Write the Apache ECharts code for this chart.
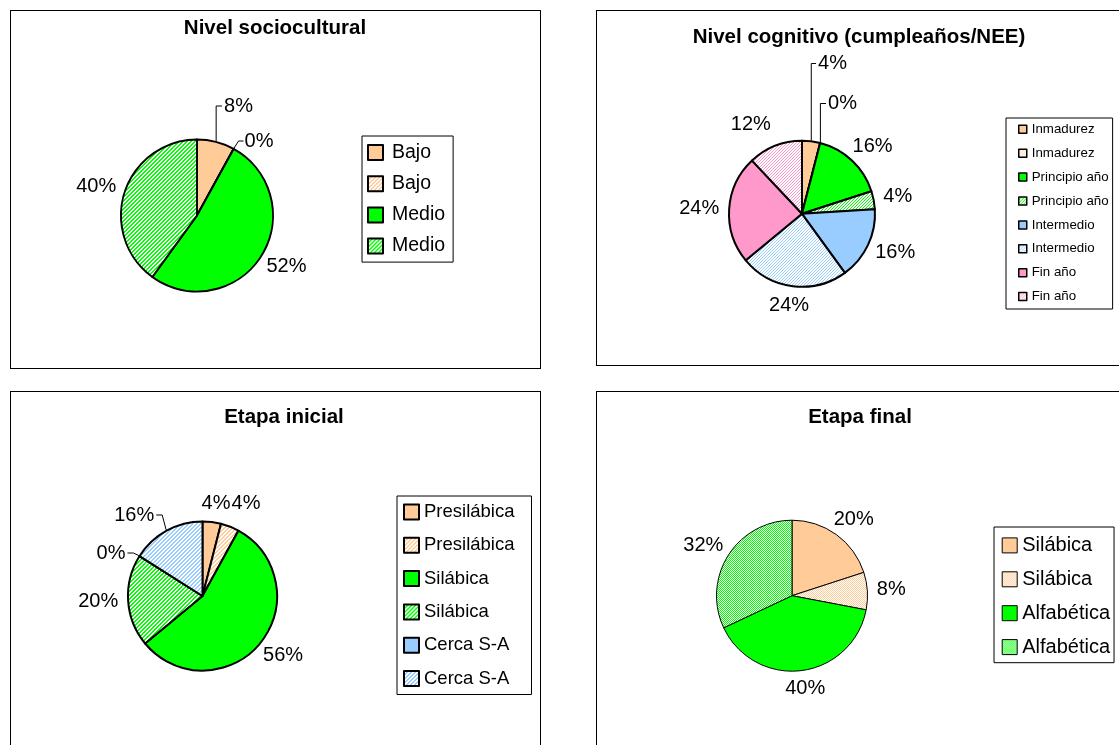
<!DOCTYPE html>
<html>
<head>
<meta charset="utf-8">
<script src="https://cdn.jsdelivr.net/npm/echarts@6/dist/echarts.min.js"></script>
<style>
  html, body { margin: 0; padding: 0; background: #fff; }
  #stage { position: relative; width: 1119px; height: 745px; overflow: hidden; }
  .frame { position: absolute; border: 1px solid #000; box-sizing: border-box; }
  #chart { position: absolute; left: 0; top: 0; width: 1119px; height: 745px; }
</style>
</head>
<body>
<div id="stage">
  <div class="frame" style="left:10px;top:10px;width:531px;height:359px;"></div>
  <div class="frame" style="left:596px;top:10px;width:600px;height:356px;"></div>
  <div class="frame" style="left:10px;top:391px;width:531px;height:420px;"></div>
  <div class="frame" style="left:596px;top:391px;width:600px;height:420px;"></div>
  <div id="chart"></div>
</div>
<script>
// ---- data -------------------------------------------------------------
const socioTitle = 'Nivel sociocultural';
const socioNames = ['Bajo', 'Bajo', 'Medio', 'Medio'];
const socioValues = [8, 0, 52, 40];

const cognTitle = 'Nivel cognitivo (cumpleaños/NEE)';
const cognNames = ['Inmadurez', 'Inmadurez', 'Principio año', 'Principio año',
                   'Intermedio', 'Intermedio', 'Fin año', 'Fin año'];
const cognValues = [4, 0, 16, 4, 16, 24, 24, 12];

const inicialTitle = 'Etapa inicial';
const inicialNames = ['Presilábica', 'Presilábica', 'Silábica', 'Silábica', 'Cerca S-A', 'Cerca S-A'];
const inicialValues = [4, 4, 56, 20, 0, 16];

const finalTitle = 'Etapa final';
const finalNames = ['Silábica', 'Silábica', 'Alfabética', 'Alfabética'];
const finalValues = [20, 8, 40, 32];

// ---- fills ------------------------------------------------------------
const PEACH = '#FFCC99', GREEN = '#00FF00', BLUE = '#99CCFF', PINK = '#FF99CC';
const FONT = "'Liberation Sans', Arial, sans-serif";

// diagonal "/" stripes of the given colour on white
function stripes(color, period, thick) {
  const c = document.createElement('canvas');
  c.width = c.height = period;
  const g = c.getContext('2d');
  g.fillStyle = '#fff'; g.fillRect(0, 0, period, period);
  g.fillStyle = color;
  for (let y = 0; y < period; y++) {
    for (let t = 0; t < thick; t++) {
      const x = ((period - 1 - y + t) % period + period) % period;
      g.fillRect(x, y, 1, 1);
    }
  }
  return { image: c, repeat: 'repeat' };
}
// fine checkerboard of the given colour on white
function dots(color) {
  const c = document.createElement('canvas');
  c.width = c.height = 2;
  const g = c.getContext('2d');
  g.fillStyle = '#fff'; g.fillRect(0, 0, 2, 2);
  g.fillStyle = color; g.fillRect(0, 0, 1, 1); g.fillRect(1, 1, 1, 1);
  return { image: c, repeat: 'repeat' };
}

const socioFills = [PEACH, stripes(PEACH, 4, 2), GREEN, stripes(GREEN, 4, 2)];
const cognFills = [PEACH, stripes(PEACH, 3, 1), GREEN, stripes(GREEN, 3, 1),
                   BLUE, stripes(BLUE, 3, 1), PINK, stripes(PINK, 3, 1)];
const inicialFills = [PEACH, stripes(PEACH, 4, 2), GREEN, stripes(GREEN, 4, 2), BLUE, stripes(BLUE, 4, 2)];
const finalFills = [PEACH, dots(PEACH), GREEN, dots(GREEN)];

// ---- label placement ----------------------------------------------------
// Labels sit on a ring just outside the pie; a few are pinned elsewhere
// (offset from the pie centre) and joined to their slice by a leader line.
const GAP = 9;
function ringLayout(cx, cy, r, values, pins) {
  const total = values.reduce((a, b) => a + b, 0);
  let acc = 0;
  const mids = values.map(v => { const m = (acc + v / 2) / total * 2 * Math.PI; acc += v; return m; });
  return function (p) {
    const i = p.dataIndex;
    const ux = Math.sin(mids[i]), uy = -Math.cos(mids[i]);
    const w = p.labelRect.width;
    const pin = pins[i];
    if (!pin) {
      const d = r + GAP;
      return { x: cx + d * ux + ux * w / 2, y: cy + d * uy + uy * 9, align: 'center', verticalAlign: 'middle' };
    }
    const x = cx + pin.dx, y = cy + pin.dy;
    const out = { x: x, y: y, align: 'center', verticalAlign: 'middle' };
    const ex = cx + r * ux, ey = cy + r * uy;
    if (pin.leader === 'up') out.labelLinePoints = [[ex, ey], [ex, y], [x - w / 2 - 2, y]];
    else if (pin.leader === 'left') out.labelLinePoints = [[ex, ey], [x - w / 2 - 6, y], [x - w / 2 - 1, y]];
    else if (pin.leader === 'right') out.labelLinePoints = [[ex, ey], [x + w / 2 + 8, y], [x + w / 2 + 2, y]];
    return out;
  };
}

// ---- chart builders -------------------------------------------------------
const stripId = name => name.split('|')[0];

function pieSeries(key, names, values, fills, geo, pins) {
  return {
    type: 'pie',
    center: [geo.cx, geo.cy],
    radius: geo.r,
    startAngle: 90,
    clockwise: true,
    avoidLabelOverlap: false,
    animation: false,
    silent: true,
    itemStyle: { borderColor: '#000', borderWidth: geo.bw },
    label: { show: true, position: 'outside', formatter: p => p.value + '%', fontSize: 20, color: '#000', fontFamily: FONT },
    labelLine: { show: false, length: 8, length2: 0, smooth: false, lineStyle: { color: '#000', width: 1 } },
    labelLayout: ringLayout(geo.cx, geo.cy, geo.r + geo.bw / 2, values, pins),
    data: values.map((v, i) => ({
      name: names[i] + '|' + key + i,
      value: v,
      itemStyle: { color: fills[i] },
      labelLine: { show: !!(pins[i] && pins[i].leader) }
    }))
  };
}

function legendFor(key, names, cfg) {
  return {
    orient: 'vertical',
    left: cfg.left, top: cfg.top,
    padding: cfg.padding,
    itemGap: cfg.itemGap,
    itemWidth: cfg.icon, itemHeight: cfg.icon,
    icon: 'rect',
    borderColor: '#000', borderWidth: 1,
    selectedMode: false,
    formatter: stripId,
    itemStyle: { borderColor: '#000', borderWidth: cfg.iconBorder },
    textStyle: { fontSize: cfg.fontSize, lineHeight: cfg.lineHeight, color: '#000', fontFamily: FONT,
                 padding: [0, 0, 0, cfg.textPad] },
    data: names.map((n, i) => n + '|' + key + i)
  };
}

const titleStyle = { fontSize: 20.5, fontWeight: 'bold', color: '#000', fontFamily: FONT };

const option = {
  animation: false,
  title: [
    { text: socioTitle, left: 275, top: 18, textAlign: 'center', padding: 0, textStyle: titleStyle },
    { text: cognTitle, left: 859, top: 27, textAlign: 'center', padding: 0, textStyle: titleStyle },
    { text: inicialTitle, left: 284, top: 407, textAlign: 'center', padding: 0, textStyle: titleStyle },
    { text: finalTitle, left: 860, top: 407, textAlign: 'center', padding: 0, textStyle: titleStyle }
  ],
  legend: [
    legendFor('a', socioNames, { left: 362, top: 136, padding: [6.5, 8, 6, 5], itemGap: 11.2, icon: 15,
      iconBorder: 2, fontSize: 19.5, lineHeight: 20, textPad: 4 }),
    legendFor('b', cognNames, { left: 1006, top: 118, padding: [4.3, 4, 5.4, 12], itemGap: 9.9, icon: 8,
      iconBorder: 1.5, fontSize: 13.3, lineHeight: 14, textPad: 0 }),
    legendFor('c', inicialNames, { left: 397, top: 496, padding: [6, 17, 6, 6], itemGap: 13.3, icon: 15,
      iconBorder: 2, fontSize: 18.5, lineHeight: 20, textPad: 0 }),
    legendFor('d', finalNames, { left: 994, top: 527, padding: [8.4, 4, 5.6, 7.7], itemGap: 13.9, icon: 15,
      iconBorder: 1, fontSize: 20, lineHeight: 20, textPad: 0 })
  ],
  series: [
    pieSeries('a', socioNames, socioValues, socioFills, { cx: 197, cy: 215.5, r: 76, bw: 2 },
      { 0: { dx: 41.5, dy: -109.5, leader: 'up' }, 1: { dx: 62, dy: -74.5, leader: 'left' } }),
    pieSeries('b', cognNames, cognValues, cognFills, { cx: 802, cy: 213.8, r: 73, bw: 2 },
      { 0: { dx: 30.5, dy: -150.3, leader: 'up' }, 1: { dx: 40.5, dy: -110.3, leader: 'up' },
        7: { dx: -51.2, dy: -89.6 } }),
    pieSeries('c', inicialNames, inicialValues, inicialFills, { cx: 202.5, cy: 596, r: 74.5, bw: 2 },
      { 0: { dx: 13.5, dy: -93 }, 1: { dx: 43.5, dy: -93 },
        4: { dx: -91.5, dy: -43, leader: 'right' }, 5: { dx: -68.3, dy: -81, leader: 'right' } }),
    pieSeries('d', finalNames, finalValues, finalFills, { cx: 792, cy: 595.7, r: 75.5, bw: 1 }, {})
  ]
};

const chart = echarts.init(document.getElementById('chart'), null, { renderer: 'canvas' });
chart.setOption(option);
</script>
</body>
</html>
